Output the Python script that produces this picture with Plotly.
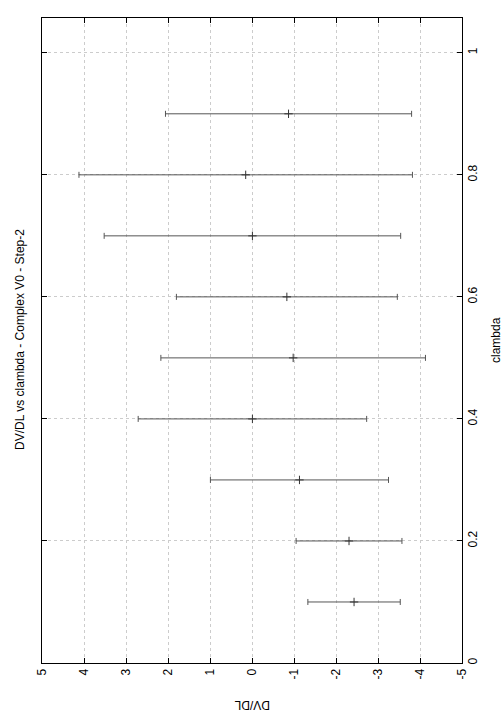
import plotly.graph_objects as go

clambda = [0.1, 0.2, 0.3, 0.4, 0.5, 0.6, 0.7, 0.8, 0.9]
dvdl = [-2.43, -2.31, -1.13, -0.01, -0.98, -0.83, -0.01, 0.15, -0.87]
dvdl_err = [1.10, 1.26, 2.12, 2.72, 3.15, 2.63, 3.53, 3.97, 2.93]

x_ticks = [5, 4, 3, 2, 1, 0, -1, -2, -3, -4, -5]
y_ticks = [0, 0.2, 0.4, 0.6, 0.8, 1]

fig = go.Figure()
fig.add_trace(go.Scatter(
    x=dvdl, y=clambda, mode="markers",
    marker=dict(symbol="cross-thin", size=6, line=dict(color="#333333", width=1), color="#333333"),
    error_x=dict(type="data", array=dvdl_err, visible=True, color="#555555", thickness=1, width=3),
    showlegend=False, hoverinfo="skip",
))

font = "Liberation Sans, Arial, Helvetica, sans-serif"
W, H = 504, 720
l, r, t, b = 42, 42, 18, 57
pw, ph = W - l - r, H - t - b


def px2paper(px, py):
    return (px - l) / pw, (H - b - py) / ph


ann_specs = [
    ("DV/DL vs clambda - Complex V0 - Step-2", 20, 340, -90),
    ("clambda", 496, 340, -90),
    ("DV/DL", 252, 705, 180),
]
annotations = []
for text, px, py, ang in ann_specs:
    ax, ay = px2paper(px, py)
    annotations.append(dict(text=text, x=ax, y=ay, xref="paper", yref="paper",
                            xanchor="center", yanchor="middle", showarrow=False,
                            textangle=ang, font=dict(size=12)))

fig.update_layout(
    width=W, height=H,
    margin=dict(l=l, r=r, t=t, b=b, autoexpand=False),
    paper_bgcolor="white", plot_bgcolor="white",
    font=dict(family=font, size=12, color="black"),
    xaxis=dict(range=[5, -5], tickvals=x_ticks, ticktext=[str(v) for v in x_ticks],
               tickangle=-90, ticks="inside", ticklen=5, tickcolor="black",
               showline=True, linecolor="black", linewidth=1, mirror="allticks",
               showgrid=True, gridcolor="#cccccc", griddash="dot", gridwidth=1,
               zeroline=False, automargin=False),
    yaxis=dict(range=[0, 1.057], side="right", tickvals=y_ticks,
               ticktext=["0", "0.2", "0.4", "0.6", "0.8", "1"],
               tickangle=-90, ticks="inside", ticklen=5, tickcolor="black",
               showline=True, linecolor="black", linewidth=1, mirror="allticks",
               showgrid=True, gridcolor="#cccccc", griddash="dot", gridwidth=1,
               zeroline=False, automargin=False),
    annotations=annotations,
)

fig.write_html("out.html", config={"displayModeBar": False},
               post_script="document.body.style.margin='0';")
